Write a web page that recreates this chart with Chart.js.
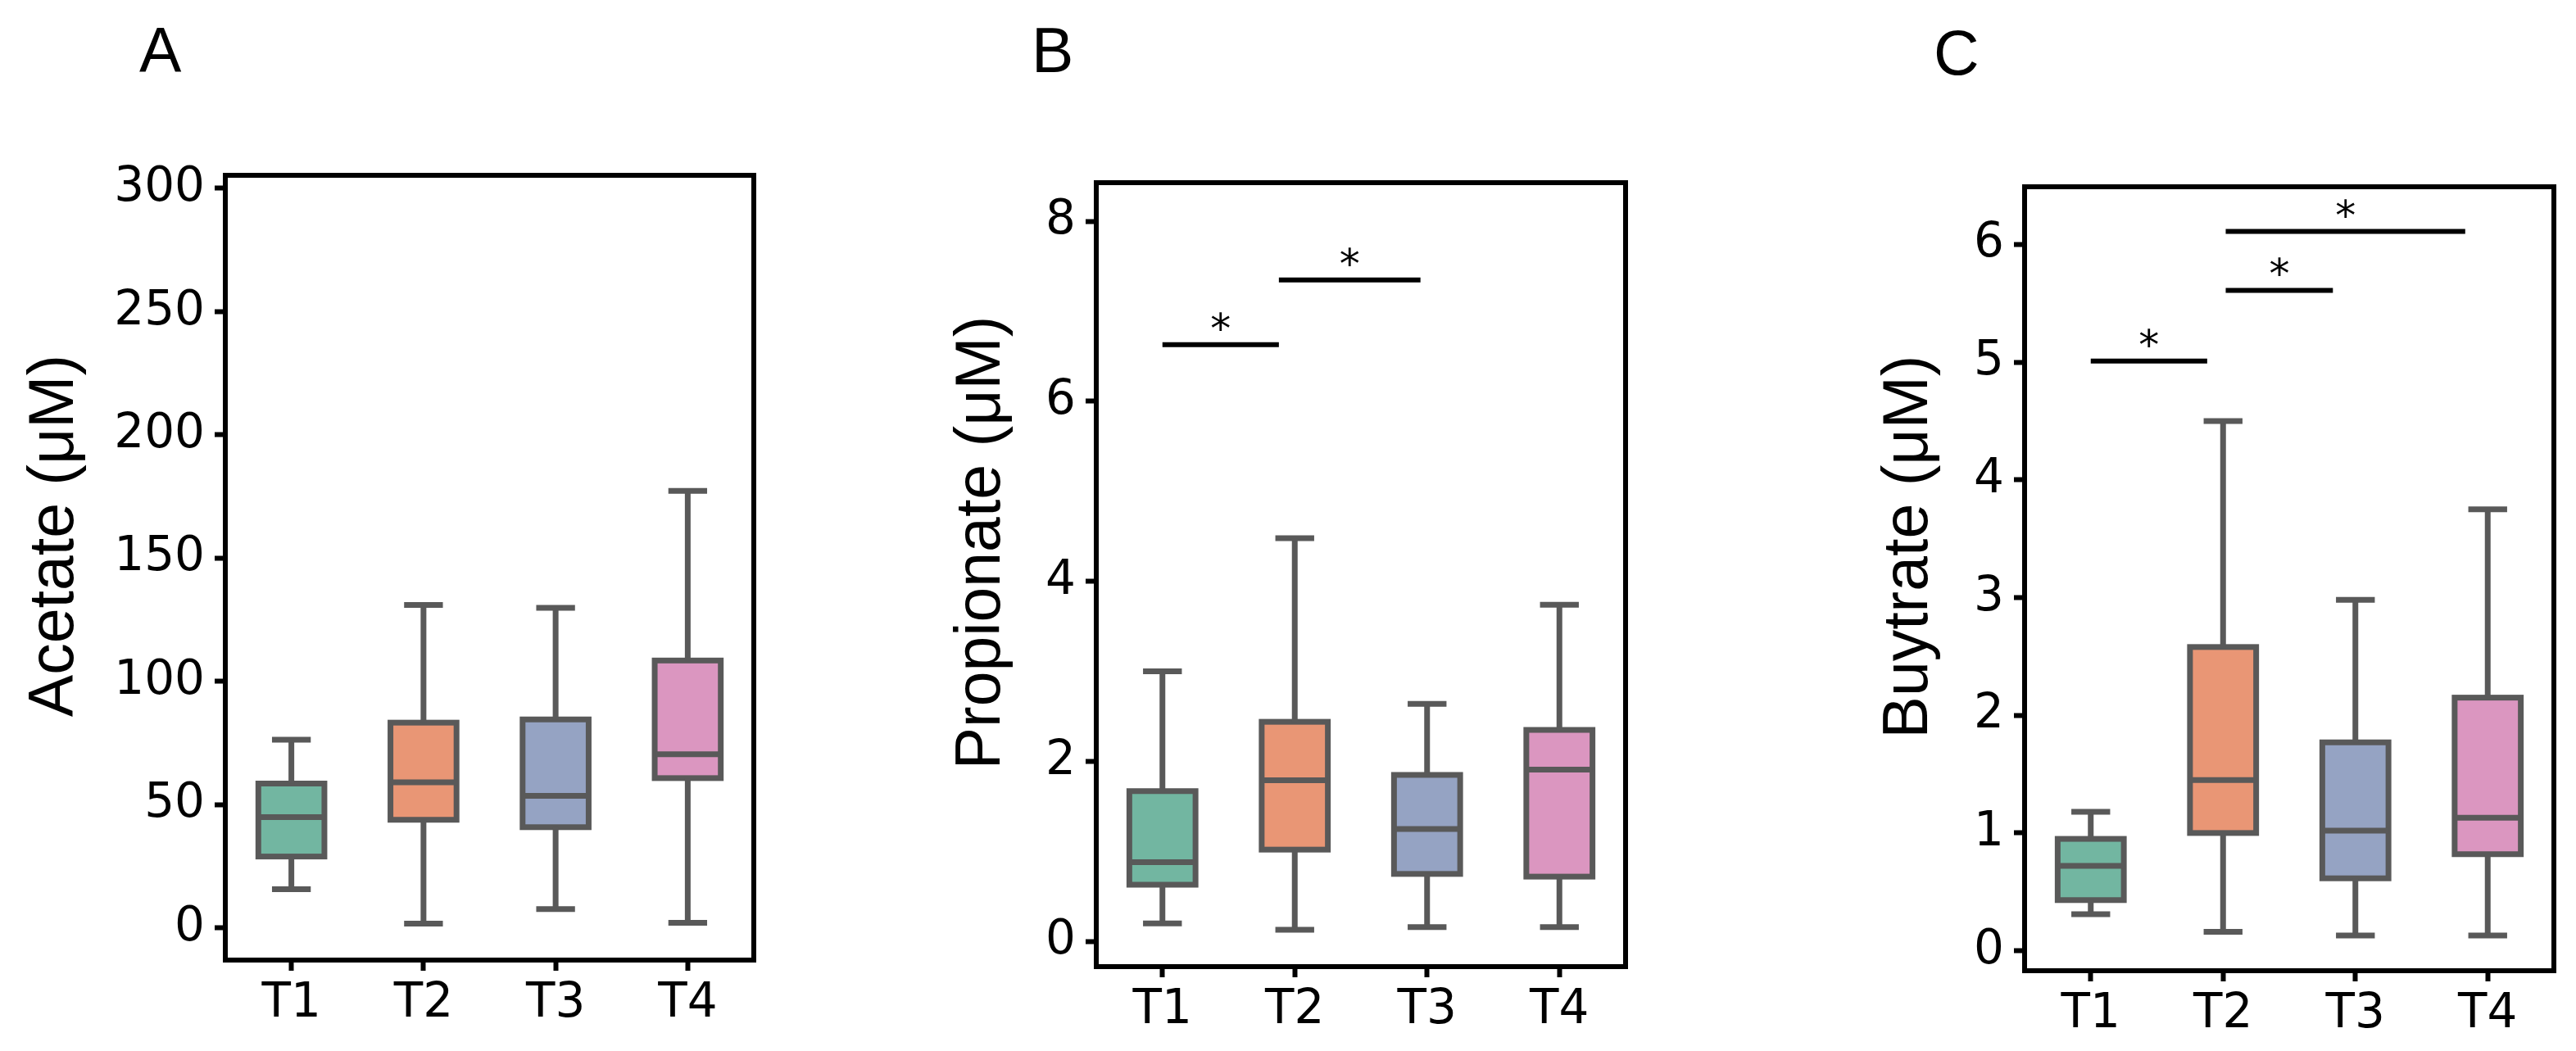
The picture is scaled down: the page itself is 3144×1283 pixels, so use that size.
<!DOCTYPE html>
<html>
<head>
<meta charset="utf-8">
<script src="https://cdn.jsdelivr.net/npm/chart.js@4.4.1/dist/chart.umd.min.js"></script>
<style>
  html, body { margin: 0; padding: 0; background: #fff; }
  #wrap { position: relative; width: 3144px; height: 1283px; }
  #wrap canvas { position: absolute; left: 0; top: 0; }
</style>
</head>
<body>
<div id="wrap">
  <canvas id="chartA" width="3144" height="1283"></canvas>
  <canvas id="chartB" width="3144" height="1283"></canvas>
  <canvas id="chartC" width="3144" height="1283"></canvas>
</div>
<script>
const groups = ['T1', 'T2', 'T3', 'T4'];
const boxColors = ['#72b6a1', '#e99675', '#95a3c3', '#db96c0'];

// Acetate (panel A)
const acetateMin    = [15.7, 1.8, 7.7, 2.1];
const acetateQ1     = [29.0, 43.9, 40.9, 60.8];
const acetateMedian = [45.0, 59.1, 53.6, 70.5];
const acetateQ3     = [58.6, 83.3, 84.6, 108.5];
const acetateMax    = [76.4, 131.0, 129.9, 177.3];
const acetateTicks  = [0, 50, 100, 150, 200, 250, 300];

// Propionate (panel B)
const propionateMin    = [0.20, 0.13, 0.16, 0.16];
const propionateQ1     = [0.63, 1.02, 0.75, 0.72];
const propionateMedian = [0.88, 1.79, 1.25, 1.91];
const propionateQ3     = [1.67, 2.44, 1.85, 2.35];
const propionateMax    = [3.00, 4.48, 2.64, 3.74];
const propionateTicks  = [0, 2, 4, 6, 8];
// significance bars: span in group units and height
const propionateSigFrom = [0, 0.88];
const propionateSigTo   = [0.88, 1.95];
const propionateSigY    = [6.63, 7.35];

// Butyrate (panel C)
const butyrateMin    = [0.31, 0.16, 0.13, 0.13];
const butyrateQ1     = [0.43, 1.00, 0.615, 0.82];
const butyrateMedian = [0.72, 1.45, 1.02, 1.13];
const butyrateQ3     = [0.95, 2.58, 1.77, 2.15];
const butyrateMax    = [1.18, 4.50, 2.98, 3.75];
const butyrateTicks  = [0, 1, 2, 3, 4, 5, 6];
const butyrateSigFrom = [0, 1.02, 1.02];
const butyrateSigTo   = [0.88, 1.83, 2.83];
const butyrateSigY    = [5.01, 5.61, 6.11];

const FONT = 'DejaVu Sans';
const LABEL_FONT = 'Liberation Sans';
const EDGE = '#595959';

// box outlines, whiskers, caps, medians, significance bars and the axes frame
const boxExtras = {
  id: 'boxExtras',
  afterDatasetsDraw(chart, args, o) {
    const { ctx, chartArea, scales: { x, y } } = chart;
    const step = x.getPixelForValue(1) - x.getPixelForValue(0);
    const bars = chart.getDatasetMeta(0).data;
    ctx.save();
    ctx.strokeStyle = EDGE;
    ctx.lineWidth = 7;
    o.lo.forEach((lo, i) => {
      const cx = x.getPixelForValue(i);
      const b = bars[i].getProps(['x', 'y', 'base', 'width'], true);
      ctx.lineJoin = 'miter';
      ctx.strokeRect(b.x - b.width / 2, Math.min(b.y, b.base), b.width, Math.abs(b.base - b.y));

      ctx.lineCap = 'butt';
      ctx.beginPath();
      ctx.moveTo(cx, y.getPixelForValue(o.q3[i]));
      ctx.lineTo(cx, y.getPixelForValue(o.hi[i]));
      ctx.moveTo(cx, y.getPixelForValue(o.q1[i]));
      ctx.lineTo(cx, y.getPixelForValue(lo));
      ctx.stroke();

      ctx.lineCap = 'square';
      const cw = step * 0.125;
      ctx.beginPath();
      [lo, o.hi[i]].forEach(v => {
        const py = y.getPixelForValue(v);
        ctx.moveTo(cx - cw, py);
        ctx.lineTo(cx + cw, py);
      });
      ctx.stroke();

      ctx.lineCap = 'butt';
      const my = y.getPixelForValue(o.med[i]);
      ctx.beginPath();
      ctx.moveTo(b.x - b.width / 2, my);
      ctx.lineTo(b.x + b.width / 2, my);
      ctx.stroke();
    });

    ctx.strokeStyle = '#000';
    ctx.fillStyle = '#000';
    ctx.lineWidth = 6;
    ctx.lineCap = 'butt';
    ctx.font = '50px "' + FONT + '"';
    ctx.textAlign = 'center';
    ctx.textBaseline = 'alphabetic';
    (o.sigY || []).forEach((v, k) => {
      const x1 = x.getPixelForValue(o.sigFrom[k]);
      const x2 = x.getPixelForValue(o.sigTo[k]);
      const py = y.getPixelForValue(v);
      ctx.beginPath();
      ctx.moveTo(x1, py);
      ctx.lineTo(x2, py);
      ctx.stroke();
      ctx.fillText('*', (x1 + x2) / 2, py - 3);
    });

    ctx.strokeRect(chartArea.left, chartArea.top,
      chartArea.right - chartArea.left, chartArea.bottom - chartArea.top);
    ctx.restore();
  }
};

// panel letter and rotated y label
const panelText = {
  id: 'panelText',
  afterDraw(chart, args, o) {
    const { ctx, chartArea } = chart;
    ctx.save();
    ctx.fillStyle = '#000';
    ctx.font = '77px "' + LABEL_FONT + '"';
    ctx.textBaseline = 'alphabetic';
    ctx.textAlign = 'left';
    ctx.fillText(o.letter, o.letterX, o.letterY);
    ctx.translate(o.labelX, (chartArea.top + chartArea.bottom) / 2 + o.labelShift);
    ctx.rotate(-Math.PI / 2);
    ctx.textAlign = 'center';
    ctx.fillText(o.label, 0, 0);
    ctx.restore();
  }
};

function makePanel(id, p) {
  const tickFont = { family: FONT, size: 58 };
  return new Chart(document.getElementById(id), {
    type: 'bar',
    data: {
      labels: groups,
      datasets: [{
        data: groups.map((g, i) => [p.q1[i], p.q3[i]]),
        backgroundColor: boxColors,
        borderWidth: 0,
        inflateAmount: 0,
        barPercentage: 0.5,
        categoryPercentage: 1
      }]
    },
    options: {
      responsive: false,
      devicePixelRatio: 1,
      animation: false,
      events: [],
      layout: {
        padding: { left: p.frame[0] - 200, right: 3144 - p.frame[1], top: p.frame[2], bottom: 0 }
      },
      plugins: {
        legend: { display: false },
        tooltip: { enabled: false },
        boxExtras: p,
        panelText: p.text
      },
      scales: {
        x: {
          offset: true,
          border: { display: false },
          grid: { offset: false, drawOnChartArea: false, tickLength: 13, tickWidth: 6, tickColor: '#000' },
          ticks: { font: tickFont, color: '#000', padding: 6, maxRotation: 0, autoSkip: false },
          afterFit(s) { s.height = 1283 - p.frame[3]; }
        },
        y: {
          min: p.range[0],
          max: p.range[1],
          border: { display: false },
          grid: { drawOnChartArea: false, tickLength: 13, tickWidth: 6, tickColor: '#000' },
          ticks: { font: tickFont, color: '#000', padding: 12 },
          afterBuildTicks(s) { s.ticks = p.ticks.map(v => ({ value: v })); },
          afterFit(s) { s.width = 200; }
        }
      }
    },
    plugins: [boxExtras, panelText]
  });
}

makePanel('chartA', {
  lo: acetateMin, q1: acetateQ1, med: acetateMedian, q3: acetateQ3, hi: acetateMax,
  ticks: acetateTicks, range: [-13, 305.3],
  frame: [275, 920, 214, 1172],
  text: { letter: 'A', letterX: 170, letterY: 88, label: 'Acetate (μM)', labelX: 89, labelShift: -39 }
});

makePanel('chartB', {
  lo: propionateMin, q1: propionateQ1, med: propionateMedian, q3: propionateQ3, hi: propionateMax,
  ticks: propionateTicks, range: [-0.28, 8.43],
  sigFrom: propionateSigFrom, sigTo: propionateSigTo, sigY: propionateSigY,
  frame: [1338, 1984, 223, 1180],
  text: { letter: 'B', letterX: 1259, letterY: 88, label: 'Propionate (μM)', labelX: 1220, labelShift: -39 }
});

makePanel('chartC', {
  lo: butyrateMin, q1: butyrateQ1, med: butyrateMedian, q3: butyrateQ3, hi: butyrateMax,
  ticks: butyrateTicks, range: [-0.17, 6.49],
  sigFrom: butyrateSigFrom, sigTo: butyrateSigTo, sigY: butyrateSigY,
  frame: [2471, 3117, 228, 1185],
  text: { letter: 'C', letterX: 2360, letterY: 91, label: 'Buytrate (μM)', labelX: 2352, labelShift: -39 }
});
</script>
</body>
</html>
